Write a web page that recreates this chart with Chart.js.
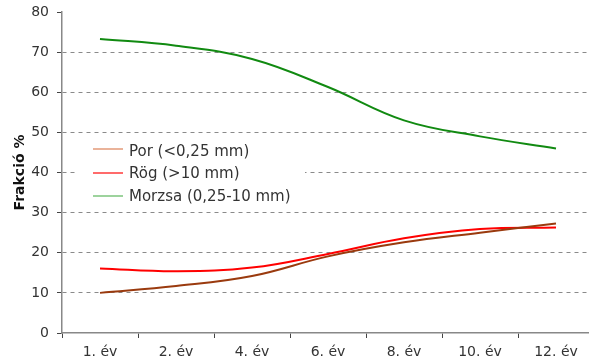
<!DOCTYPE html>
<html>
<head>
<meta charset="utf-8">
<script src="https://cdn.jsdelivr.net/npm/chart.js@4/dist/chart.umd.min.js"></script>
<style>
  html, body { margin: 0; padding: 0; background: #fff; overflow: hidden; }
  #wrap { position: relative; width: 596px; height: 362px; }
</style>
</head>
<body>
<div id="wrap"><canvas id="c"></canvas></div>
<script>
// Time steps (years) and fraction shares (%)
const categories = ['1. év', '2. év', '4. év', '6. év', '8. év', '10. év', '12. év'];
const porValues    = [10.0, 11.7, 14.2, 19.1, 22.6, 25.0, 27.3];
const rogValues    = [16.1, 15.4, 16.3, 19.7, 23.6, 25.9, 26.3];
const morzsaValues = [73.3, 71.6, 68.3, 61.3, 53.0, 49.0, 46.0];
const seriesLabels = ['Por (<0,25 mm)', 'Rög (>10 mm)', 'Morzsa (0,25-10 mm)'];
const yTicks = [0, 10, 20, 30, 40, 50, 60, 70, 80];

const FONT = 'Verdana, "DejaVu Sans", sans-serif';

// Legend drawn inside the plot area on a white box
const insideLegend = {
  id: 'insideLegend',
  afterDraw(chart) {
    const ctx = chart.ctx;
    const rows = [
      { y: 149, ty: 152, color: '#e39a78' },
      { y: 173, ty: 174, color: '#ff3a3a' },
      { y: 196, ty: 197, color: '#7cc47c' }
    ];
    ctx.save();
    ctx.fillStyle = '#fff';
    ctx.fillRect(77, 137, 228, 72);
    ctx.font = '15px ' + FONT;
    ctx.textBaseline = 'middle';
    ctx.textAlign = 'left';
    chart.data.datasets.forEach((ds, i) => {
      const r = rows[i];
      ctx.strokeStyle = r.color;
      ctx.lineWidth = 1.5;
      ctx.beginPath();
      ctx.moveTo(93, r.y);
      ctx.lineTo(123, r.y);
      ctx.stroke();
      ctx.fillStyle = '#333';
      ctx.fillText(ds.label, 129, r.ty);
    });
    ctx.restore();
  }
};

new Chart(document.getElementById('c'), {
  type: 'line',
  data: {
    labels: categories,
    datasets: [
      { label: seriesLabels[0], data: porValues, borderColor: '#9a3a0e' },
      { label: seriesLabels[1], data: rogValues, borderColor: '#ff0000' },
      { label: seriesLabels[2], data: morzsaValues, borderColor: '#118a11' }
    ]
  },
  options: {
    responsive: true,
    maintainAspectRatio: false,
    animation: false,
    devicePixelRatio: 1,
    layout: { padding: { top: 12, right: 2, left: 0, bottom: 0 } },
    elements: {
      line: { borderWidth: 2, tension: 0.4, fill: false },
      point: { radius: 0, hoverRadius: 0 }
    },
    plugins: {
      legend: { display: false },
      tooltip: { enabled: false }
    },
    scales: {
      x: {
        type: 'category',
        offset: true,
        grid: {
          offset: true,
          drawOnChartArea: false,
          drawTicks: true,
          tickLength: 5,
          tickColor: '#444',
          tickWidth: 1
        },
        border: { display: true, color: '#888', width: 1.5 },
        ticks: {
          color: '#333',
          font: { family: FONT, size: 14 },
          padding: 6,
          maxRotation: 0,
          autoSkip: false
        },
        afterFit(scale) {
          scale.height = 29;
          scale.paddingLeft = 0;
          scale.paddingRight = 0;
        }
      },
      y: {
        min: 0,
        max: 80,
        afterBuildTicks(scale) { scale.ticks = yTicks.map(v => ({ value: v })); },
        grid: {
          color(ctx) {
            const v = ctx.tick && ctx.tick.value;
            return (v === 0 || v === 80) ? 'rgba(0,0,0,0)' : '#8a8a8a';
          },
          lineWidth: 1,
          drawTicks: true,
          tickLength: 5,
          tickColor: '#444',
          tickBorderDash: []
        },
        border: { display: true, color: '#888', width: 1.5, dash: [4, 4] },
        ticks: {
          color: '#333',
          font: { family: FONT, size: 14 },
          padding: 8
        },
        title: {
          display: true,
          text: 'Frakció %',
          color: '#111',
          font: { family: FONT, size: 14, weight: 'bold' },
          padding: { top: 12, bottom: 0 }
        },
        afterFit(scale) {
          scale.width = 62;
          scale.paddingTop = 0;
          scale.paddingBottom = 0;
        }
      }
    }
  },
  plugins: [insideLegend]
});
</script>
</body>
</html>
